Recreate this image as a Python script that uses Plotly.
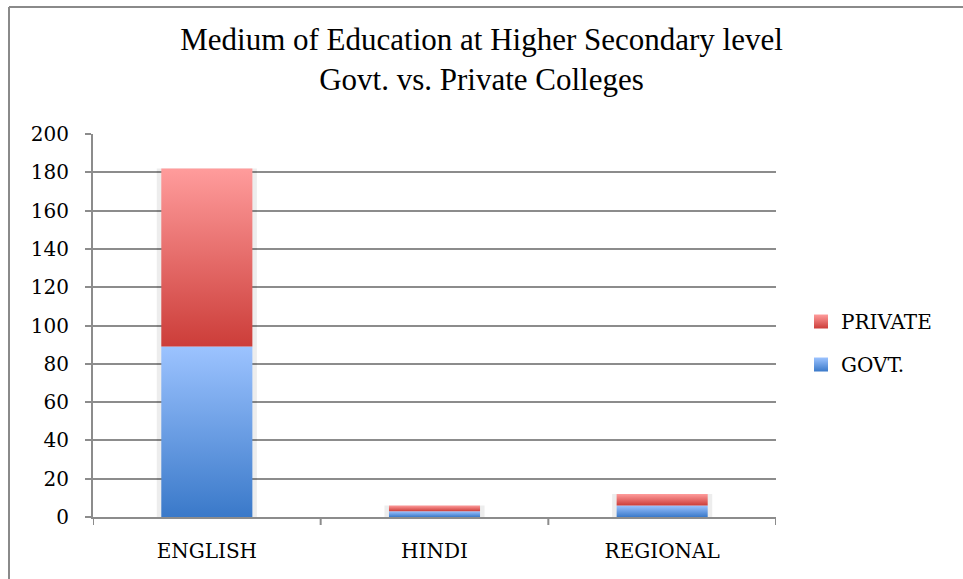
import plotly.graph_objects as go

# Medium of instruction at higher secondary level
categories = ["ENGLISH", "HINDI", "REGIONAL"]
govt = [89, 3, 6]
private = [93, 3, 6]
y_ticks = [0, 20, 40, 60, 80, 100, 120, 140, 160, 180, 200]

BAR_W = 0.4
SERIF = "DejaVu Serif"

series = [
    # name, values, bottom colour, top colour, legend rank
    ("GOVT.", govt, "#3a79c9", "#9cc3ff", 2),
    ("PRIVATE", private, "#cc3d39", "#ff9c9c", 1),
]

fig = go.Figure()

# soft shadow behind each stacked column
totals = [g + p for g, p in zip(govt, private)]
fig.add_trace(go.Bar(
    x=list(range(len(categories))), y=totals, width=BAR_W + 0.04,
    marker=dict(color="rgba(0,0,0,0.07)", line=dict(width=0)),
    showlegend=False, hoverinfo="skip",
))

base = [0] * len(categories)
for name, vals, c0, c1, rank in series:
    for i, v in enumerate(vals):
        x0, x1 = i - BAR_W / 2, i + BAR_W / 2
        b, t = base[i], base[i] + v
        fig.add_trace(go.Scatter(
            x=[x0, x1, x1, x0, x0], y=[b, b, t, t, b],
            mode="lines", line=dict(width=0),
            fill="toself",
            fillgradient=dict(type="vertical",
                              colorscale=[[0, c0], [1, c1]]),
            name=name, legendgroup=name, showlegend=False,
            hovertemplate=f"{categories[i]}<br>{name}: {v}<extra></extra>",
        ))
        base[i] = t
    # square legend key with the same vertical shading
    fig.add_trace(go.Scatter(
        x=[None], y=[None], mode="markers", name=name, legendgroup=name,
        legendrank=rank,
        marker=dict(symbol="square", size=14, color=c1,
                    gradient=dict(type="vertical", color=c0),
                    line=dict(width=0)),
        showlegend=True,
    ))

L, R, T, B = 93, 187, 134, 62
W, H = 963, 579
pw, ph = W - L - R, H - T - B

fig.update_layout(
    width=W, height=H,
    margin=dict(l=L, r=R, t=T, b=B),
    paper_bgcolor="white", plot_bgcolor="white",
    title=dict(
        text="Medium of Education at Higher Secondary level<br>Govt. vs. Private Colleges",
        font=dict(family="Liberation Serif", size=31, color="black"),
        x=0.5, xanchor="center", xref="container",
        y=1 - 50 / H, yanchor="top", yref="container",
    ),
    legend=dict(
        x=(801 - L) / pw, xanchor="left", y=1 - (302 - T) / ph, yanchor="top",
        traceorder="grouped",
        font=dict(family=SERIF, size=20, color="black"),
        itemwidth=30, tracegroupgap=14,
        bgcolor="rgba(0,0,0,0)",
    ),
    xaxis=dict(
        range=[-0.5, len(categories) - 0.5],
        tickvals=list(range(len(categories))), ticktext=categories,
        ticks="", showgrid=False, zeroline=False,
        showline=True, linecolor="#8c8c8c", linewidth=2,
        tickfont=dict(family=SERIF, size=20, color="black"),
        ticklabelstandoff=15,
        fixedrange=True,
    ),
    yaxis=dict(
        range=[0, 200], tickvals=y_ticks,
        ticks="outside", ticklen=6, tickcolor="#8c8c8c", tickwidth=2,
        showgrid=True, gridcolor="#8c8c8c", gridwidth=1.5,
        showline=True, linecolor="#8c8c8c", linewidth=2,
        zeroline=False,
        tickfont=dict(family=SERIF, size=20, color="black"),
        ticklabelstandoff=12,
        fixedrange=True,
    ),
    showlegend=True,
)

# category boundary tick marks below the axis line
for k in range(len(categories) + 1):
    fig.add_shape(type="line", xref="x", yref="paper",
                  x0=k - 0.5, x1=k - 0.5, y0=0, y1=-8 / ph,
                  line=dict(color="#8c8c8c", width=2))

# chart-area frame (left and top edges)
fx = (9 - L) / pw
fy = 1 + (T - 7) / ph
fig.add_shape(type="line", xref="paper", yref="paper",
              x0=fx, x1=fx, y0=fy, y1=-(B + 5) / ph,
              line=dict(color="#8a8a8a", width=2))
fig.add_shape(type="line", xref="paper", yref="paper",
              x0=fx, x1=1 + (R + 5) / pw, y0=fy, y1=fy,
              line=dict(color="#8a8a8a", width=2))

fig.write_html("out.html")
